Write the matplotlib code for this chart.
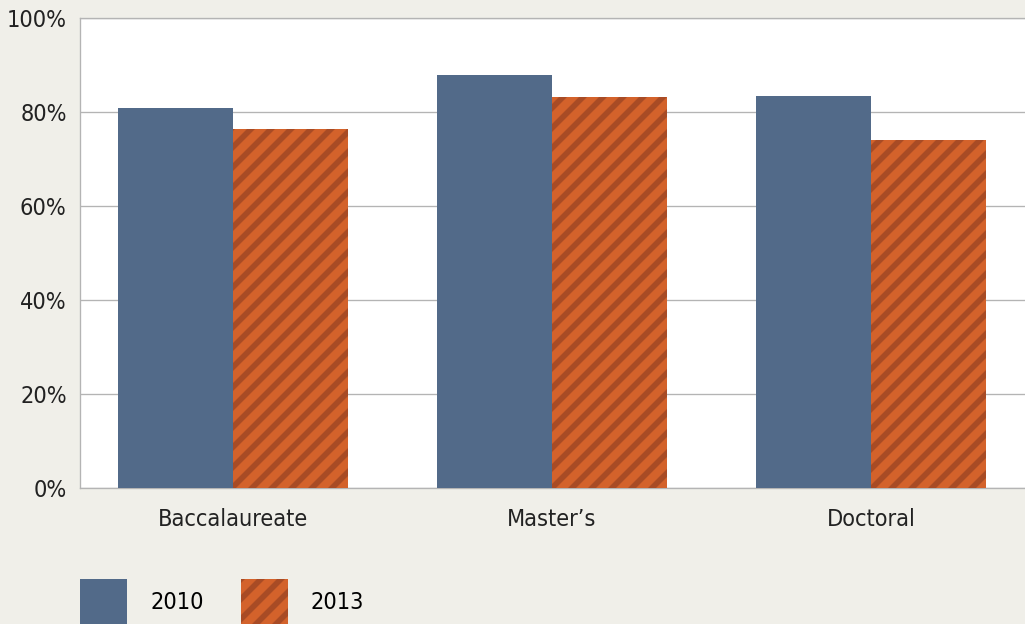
import numpy as np
import matplotlib
matplotlib.use("Agg")
import matplotlib.pyplot as plt
from matplotlib.patches import Patch
from matplotlib.ticker import PercentFormatter

categories = ["Baccalaureate", "Master\u2019s", "Doctoral"]
values_2010 = [80.9, 87.9, 83.4]
values_2013 = [76.4, 83.2, 74.0]
series_names = ["2010", "2013"]

BG = "#F0EFE9"
BLUE = "#526A89"
ORANGE = "#D3622B"
STRIPE = "#A84B25"
GRID = "#B4B4B4"
DPI = 120

plt.rcParams["font.family"] = ["DejaVu Sans"]
plt.rcParams["font.stretch"] = "condensed"
plt.rcParams["hatch.linewidth"] = 3.4

fig = plt.figure(figsize=(1025 / DPI, 624 / DPI), dpi=DPI, facecolor=BG)
ax = fig.add_axes([80 / 1025, 1 - 488 / 624, 1 - 80 / 1025, (488 - 18) / 624])
ax.set_facecolor("white")

x = np.arange(len(categories))
w = 0.36
ax.bar(x - w / 2, values_2010, w, color=BLUE, linewidth=0, zorder=3)
ax.bar(x + w / 2, values_2013, w, color=ORANGE, edgecolor=STRIPE,
       hatch="//", linewidth=0, zorder=3)

ax.set_xlim(-0.48, 2.483)
ax.set_ylim(0, 100)
ax.set_yticks(range(0, 101, 20))
ax.yaxis.set_major_formatter(PercentFormatter(decimals=0))
ax.set_xticks(x)
ax.set_xticklabels(categories)
ax.tick_params(axis="both", length=0, labelsize=14, labelcolor="#222222")
ax.tick_params(axis="y", pad=8)
ax.tick_params(axis="x", pad=12)

ax.grid(axis="y", color=GRID, linewidth=0.8, zorder=0)
for side in ["left", "top", "bottom"]:
    ax.spines[side].set_color(GRID)
    ax.spines[side].set_linewidth(0.8)
ax.spines["right"].set_visible(False)

handles = [Patch(facecolor=BLUE, linewidth=0),
           Patch(facecolor=ORANGE, edgecolor=STRIPE, hatch="//", linewidth=0)]
fig.legend(handles, series_names, loc="center left", ncol=2,
           bbox_to_anchor=(80 / 1025, 1 - 602 / 624), frameon=False,
           fontsize=14, handlelength=2.0, handleheight=2.6,
           handletextpad=1.0, columnspacing=1.6,
           borderpad=0, borderaxespad=0)

fig.savefig("out.png", dpi=DPI, facecolor=BG)
